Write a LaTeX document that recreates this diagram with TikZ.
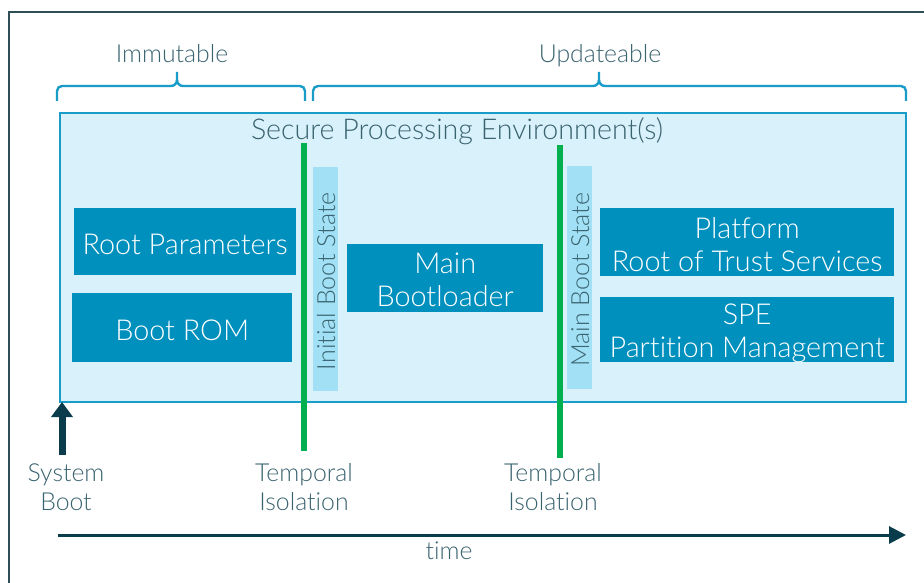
\documentclass[tikz,border=0pt]{standalone}
\usetikzlibrary{arrows.meta}
\usepackage{fontspec}
\setmainfont{Lato Light}[Ligatures={NoCommon}]
\definecolor{boxblue}{HTML}{0090BE}
\definecolor{lightbg}{HTML}{D8F1FA}
\definecolor{bordblue}{HTML}{1A9CC8}
\definecolor{barblue}{HTML}{A2E1F5}
\definecolor{isogreen}{HTML}{00B04F}
\definecolor{darkarrow}{HTML}{0B3C4B}
\definecolor{txt}{HTML}{3A6370}
\definecolor{framec}{HTML}{2E4E58}
\tikzset{
  blk/.style={draw=none, fill=boxblue, inner sep=0pt, anchor=north west},
  blktxt/.style={text=white, align=center, font=\fontsize{28.8}{33.5}\selectfont, inner sep=0pt},
  vbar/.style={fill=barblue, draw=none, inner sep=0pt, anchor=north west},
  vtxt/.style={text=txt, rotate=90, font=\fontsize{25}{28}\selectfont, inner sep=0pt},
  lbl/.style={text=txt, align=center, inner sep=0pt, font=\fontsize{24.8}{29}\selectfont},
  iso/.style={draw=isogreen, line width=6pt},
  brc/.style={draw=bordblue, line width=2.4pt},
}
\begin{document}
\begin{tikzpicture}[x=1pt,y=-1pt]
\useasboundingbox (0,0) rectangle (924,583);
% outer frame
\draw[framec, line width=1.2pt] (9,600) -- (9,12) -- (940,12);
% SPE box
\draw[draw=bordblue, fill=lightbg, line width=1.2pt] (60,113) rectangle (906,402);
\node[text=txt, font=\fontsize{28.6}{32}\selectfont, inner sep=0pt] (spe) at (457,131) {Secure Processing Environment(s)};
% braces
\node[lbl, anchor=base] (imm) at (172,63) {Immutable};
\node[lbl, anchor=base] (upd) at (600,63) {Updateable};
\draw[brc, rounded corners=5pt] (57,101) -- (57,86) -- (171,86);
\draw[brc] (171,86) to[out=0,in=-90] (177,80) -- (177,72);
\draw[brc] (183,86) to[out=180,in=-90] (177,80);
\draw[brc, rounded corners=5pt] (183,86) -- (305,86) -- (305,101);
\draw[brc, rounded corners=5pt] (313,101) -- (313,86) -- (593,86);
\draw[brc] (593,86) to[out=0,in=-90] (599,80) -- (599,72);
\draw[brc] (605,86) to[out=180,in=-90] (599,80);
\draw[brc, rounded corners=5pt] (605,86) -- (906,86) -- (906,101);
% green isolation lines
\coordinate (g1t) at (304,143);
\coordinate (g1b) at (304,451);
\coordinate (g2t) at (560,145);
\coordinate (g2b) at (560,458);
\draw[iso] (g1t) -- (g1b);
\draw[iso] (g2t) -- (g2b);
% vertical bars
\node[vbar, minimum width=25pt, minimum height=224pt] (ibs) at (313,167) {};
\node[vtxt] (ibst) at ([xshift=0.5pt,yshift=-2pt]ibs.center) {Initial Boot State};
\node[vbar, minimum width=25pt, minimum height=223pt] (mbs) at (567,166) {};
\node[vtxt] (mbst) at ([xshift=0.5pt,yshift=-2pt]mbs.center) {Main Boot State};
% blocks
\node[blk, minimum width=222pt, minimum height=67pt] (rp) at (74,208) {};
\node[blktxt] (rpt) at ([yshift=-2.5pt]rp.center) {Root Parameters};
\node[blk, minimum width=220pt, minimum height=69pt] (rom) at (72,293) {};
\node[blktxt] (romt) at ([yshift=-2.5pt]rom.center) {Boot ROM};
\node[blk, minimum width=196pt, minimum height=68pt] (mb) at (347,244) {};
\node[blktxt] (mbt) at ([yshift=-1.5pt]mb.center) {Main\\Bootloader};
\node[blk, minimum width=294pt, minimum height=68pt] (prot) at (600,208) {};
\node[blktxt] (prott) at ([yshift=-2.5pt]prot.center) {Platform\\Root of Trust Services};
\node[blk, minimum width=294pt, minimum height=65pt] (spm) at (600,297) {};
\node[blktxt] (spmt) at ([yshift=-3.5pt]spm.center) {SPE\\Partition Management};
% system boot arrow
\coordinate (sbb) at (62,455);
\coordinate (sbt) at (62,402);
\draw[darkarrow, line width=7pt, -{Triangle[length=15pt,width=21pt]}] (sbb) -- (sbt);
\node[lbl] (sb) at (66,487) {System\\Boot};
\node[lbl] (ti1) at (304,487) {Temporal\\Isolation};
\node[lbl] (ti2) at (553,487) {Temporal\\Isolation};
% time axis
\coordinate (ta) at (58,535);
\coordinate (tb) at (906,535);
\draw[darkarrow, line width=3pt, -{Triangle[length=17pt,width=17pt]}] (ta) -- (tb);
\node[lbl] (time) at (449,551) {time};
\end{tikzpicture}
\end{document}
